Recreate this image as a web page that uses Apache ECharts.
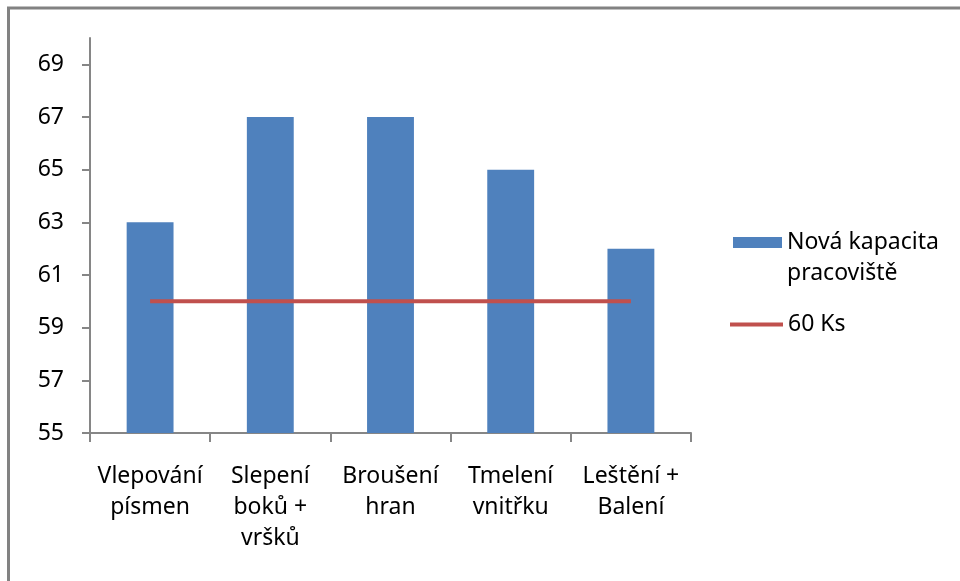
<!DOCTYPE html>
<html>
<head>
<meta charset="utf-8">
<script src="https://cdn.jsdelivr.net/npm/echarts@6/dist/echarts.min.js"></script>
<style>
html, body { margin: 0; padding: 0; background: #fff; }
#chart { width: 960px; height: 581px; }
</style>
</head>
<body>
<div id="chart"></div>
<script>
// data
const categories = ['Vlepování\npísmen', 'Slepení\nboků +\nvršků', 'Broušení\nhran', 'Tmelení\nvnitřku', 'Leštění +\nBalení'];
const capacity = [63, 67, 67, 65, 62];
const limit60 = [60, 60, 60, 60, 60];
const yTicks = [55, 57, 59, 61, 63, 65, 67, 69];

const FONT = 'Noto Sans';
const barName = 'Nová kapacita\npracoviště';
const lineName = '60 Ks';

let chart = echarts.init(document.getElementById('chart'));
chart.setOption({
    animation: false,
    textStyle: { fontFamily: FONT },
    graphic: [{
        type: 'rect',
        shape: { x: 8.5, y: 8, width: 2000, height: 2000 },
        style: { fill: 'none', stroke: '#828282', lineWidth: 3 }
    }],
    grid: { left: 90, right: 269, top: 38, bottom: 148 },
    legend: [
        {
            data: [{ name: barName, icon: 'rect' }],
            left: 733,
            top: 196,
            padding: 0,
            itemWidth: 49,
            itemHeight: 11,
            itemGap: 0,
            // blank first line so that the icon lines up with "Nová kapacita"
            formatter: function (name) { return '\n' + name; },
            textStyle: { fontFamily: FONT, fontSize: 23, color: '#000', lineHeight: 31 }
        },
        {
            data: [{ name: lineName, icon: 'rect' }],
            left: 730,
            top: 313,
            padding: 0,
            itemWidth: 53,
            itemHeight: 4,
            itemStyle: { color: '#c0504d' },
            textStyle: { fontFamily: FONT, fontSize: 23, color: '#000' }
        }
    ],
    xAxis: {
        type: 'category',
        data: categories,
        axisLine: { lineStyle: { color: '#868686', width: 2 } },
        axisTick: { show: true, length: 9, lineStyle: { color: '#868686', width: 2 } },
        axisLabel: { color: '#000', fontSize: 23, lineHeight: 31, margin: 28, interval: 0 }
    },
    yAxis: {
        type: 'value',
        min: 55,
        max: 70,
        axisLine: { show: true, lineStyle: { color: '#868686', width: 2 } },
        axisTick: { show: true, length: 8, customValues: yTicks, lineStyle: { color: '#868686', width: 2 } },
        axisLabel: { color: '#000', fontSize: 23, margin: 26, customValues: yTicks },
        splitLine: { show: false }
    },
    series: [
        {
            name: barName,
            type: 'bar',
            data: capacity,
            barWidth: '39%',
            itemStyle: { color: '#4f81bd' }
        },
        {
            name: lineName,
            type: 'line',
            data: limit60,
            symbol: 'none',
            itemStyle: { color: '#c0504d' },
            lineStyle: { color: '#c0504d', width: 4 }
        }
    ]
});
</script>
</body>
</html>
